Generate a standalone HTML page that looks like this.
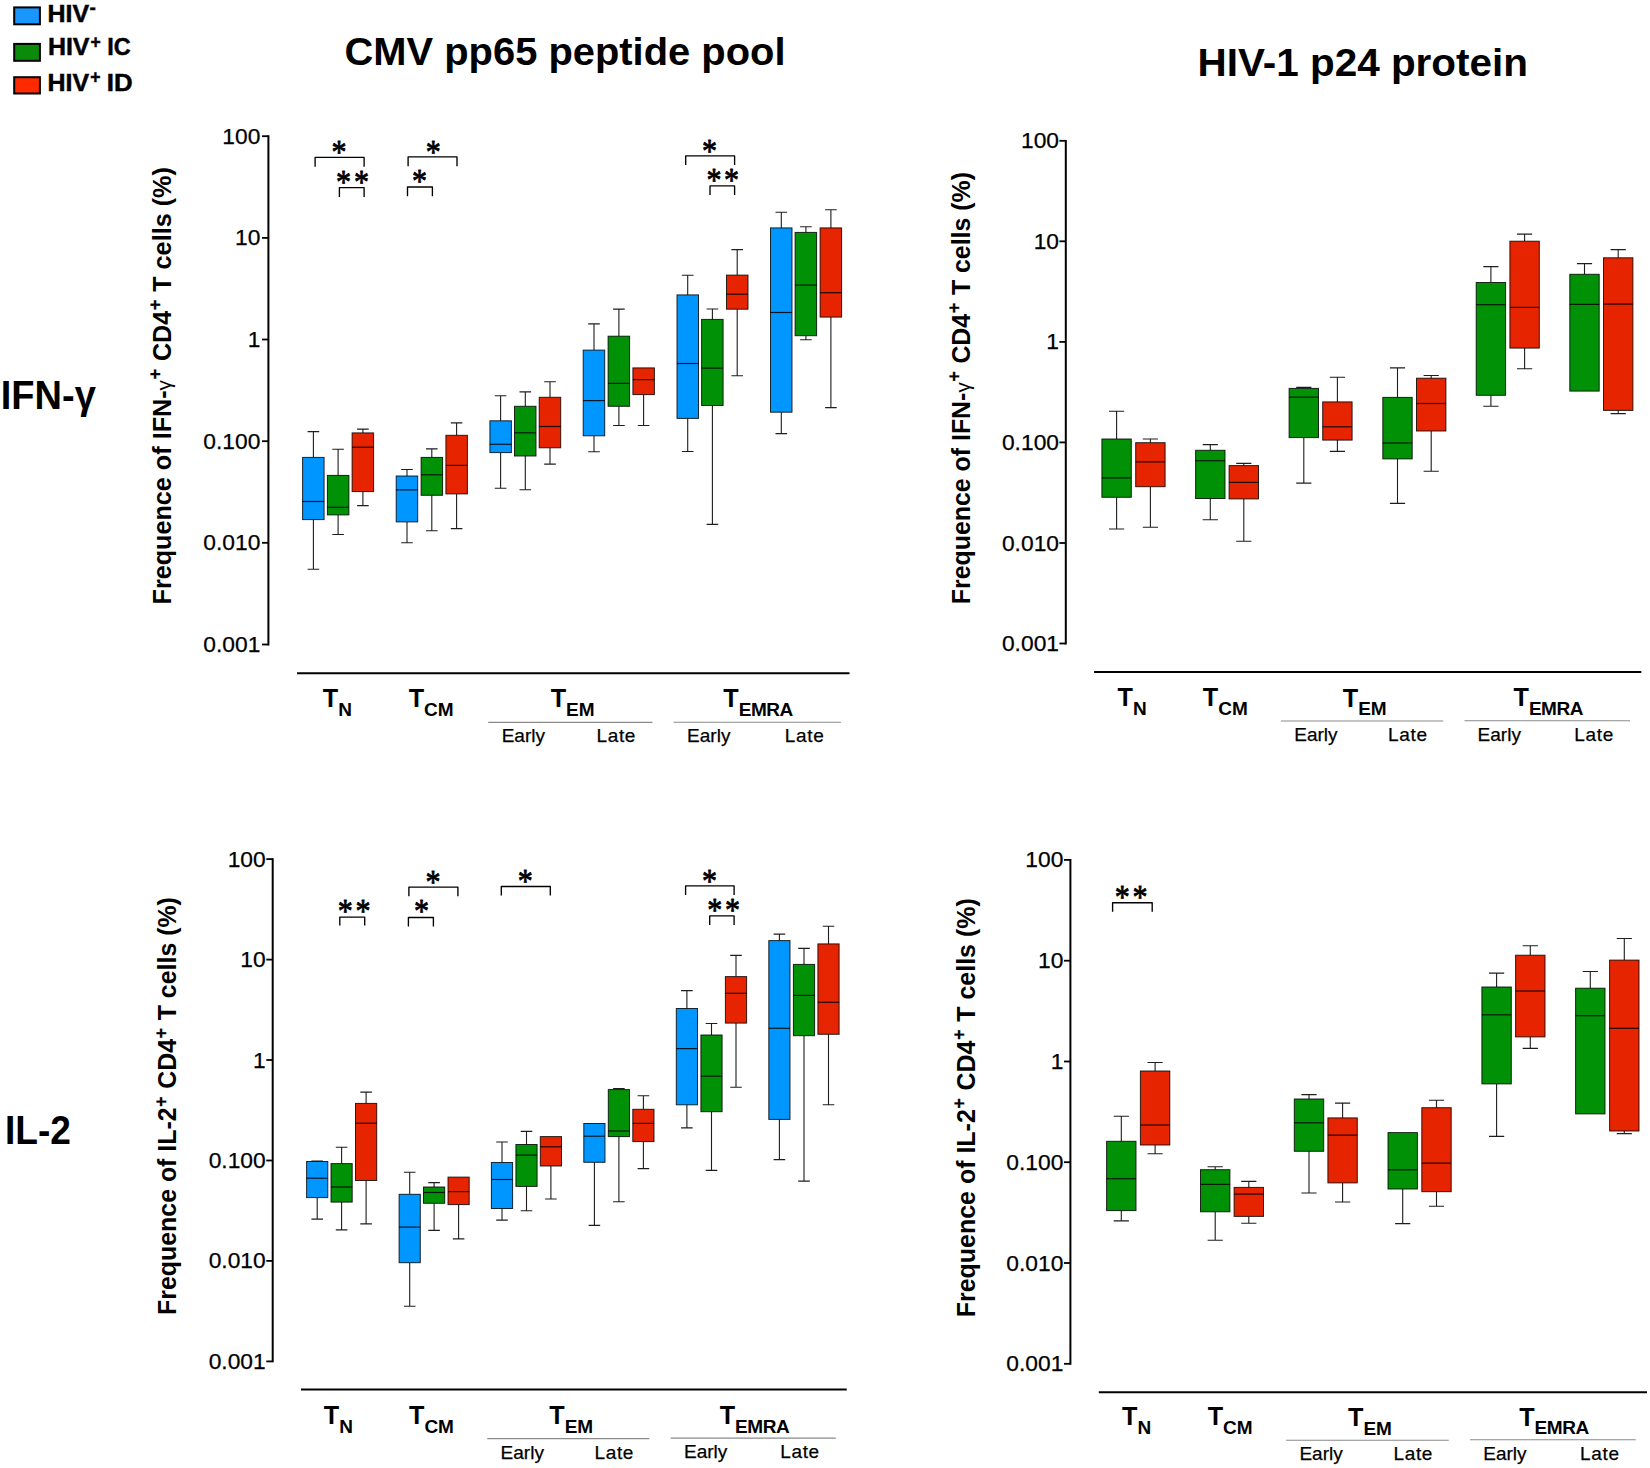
<!DOCTYPE html>
<html lang="en"><head><meta charset="utf-8"><title>Figure</title>
<style>
html,body{margin:0;padding:0;background:#fff}
svg{display:block}
text{font-family:"Liberation Sans",sans-serif;fill:#000}
.wk{stroke:#1e1e1e;stroke-width:1.1;fill:none}
.bx{stroke:#000;stroke-opacity:.82;stroke-width:1}
.md{stroke:#000;stroke-opacity:.85;stroke-width:1.2;fill:none}
.br{stroke:#000;stroke-width:1.35;fill:none;stroke-linejoin:round}
.ax{stroke:#000;stroke-width:2;fill:none}
.gl{stroke:#8a8a8a;stroke-width:1.1;fill:none}
.st{font-family:"Liberation Serif","DejaVu Serif",serif;font-size:32px;text-anchor:middle;stroke:#000;stroke-width:.8;stroke-linejoin:round}
.tk{font-size:22.8px;text-anchor:end;stroke:#000;stroke-width:0.25}
.tl{font-size:25.2px;font-weight:bold}
.sm{font-size:19px;stroke:#000;stroke-width:0.25}
.yl{font-size:24.9px;font-weight:bold}
.gm{font-weight:normal}
.big{font-weight:bold;font-size:39px}
.lg{font-weight:bold;font-size:23px;stroke:#000;stroke-width:0.45}
</style></head><body>
<svg width="1650" height="1468" viewBox="0 0 1650 1468">
<rect width="1650" height="1468" fill="#fff"/>

<rect x="14.2" y="7.4" width="25.7" height="16.9" fill="#1996ff" stroke="#000" stroke-width="2"/>
<rect x="14.2" y="43.9" width="25.7" height="16.9" fill="#0a8c0a" stroke="#000" stroke-width="2"/>
<rect x="14.2" y="77.2" width="25.7" height="16.3" fill="#ff2a00" stroke="#000" stroke-width="2"/>
<text x="47.6" y="21.6" class="lg" textLength="41.6" lengthAdjust="spacingAndGlyphs">HIV</text><text x="89.6" y="13.6" class="lg" style="font-size:19px">-</text>
<text x="47.9" y="54.9" class="lg" textLength="41.6" lengthAdjust="spacingAndGlyphs">HIV</text><text x="90.6" y="47.9" class="lg" style="font-size:17.5px">+</text><text x="107.3" y="54.9" class="lg" textLength="23.5" lengthAdjust="spacingAndGlyphs">IC</text>
<text x="47.6" y="90.5" class="lg" textLength="41.6" lengthAdjust="spacingAndGlyphs">HIV</text><text x="90.2" y="82.5" class="lg" style="font-size:17.5px">+</text><text x="106.8" y="90.5" class="lg" textLength="25.8" lengthAdjust="spacingAndGlyphs">ID</text>
<text x="344.5" y="64.7" class="big" textLength="441" lengthAdjust="spacingAndGlyphs">CMV pp65 peptide pool</text>
<text x="1197.5" y="75.6" class="big" textLength="330.5" lengthAdjust="spacingAndGlyphs">HIV-1 p24 protein</text>
<text x="0.8" y="408.9" class="big" style="font-size:40px" textLength="95" lengthAdjust="spacingAndGlyphs">IFN-γ</text>
<text x="5" y="1143.8" class="big" style="font-size:40px" textLength="66" lengthAdjust="spacingAndGlyphs">IL-2</text>
<path d="M268.4 135.3V645.4" class="ax"/>
<path d="M262.0 136.2H268.4" class="ax" style="stroke-width:1.8"/>
<text x="260.4" y="143.7" class="tk">100</text>
<path d="M262.0 237.9H268.4" class="ax" style="stroke-width:1.8"/>
<text x="260.4" y="245.4" class="tk">10</text>
<path d="M262.0 339.5H268.4" class="ax" style="stroke-width:1.8"/>
<text x="260.4" y="347.0" class="tk">1</text>
<path d="M262.0 441.2H268.4" class="ax" style="stroke-width:1.8"/>
<text x="260.4" y="448.7" class="tk">0.100</text>
<path d="M262.0 542.8H268.4" class="ax" style="stroke-width:1.8"/>
<text x="260.4" y="550.3" class="tk">0.010</text>
<path d="M262.0 644.5H268.4" class="ax" style="stroke-width:1.8"/>
<text x="260.4" y="652.0" class="tk">0.001</text>
<text transform="translate(171.2 604.5) rotate(-90)" class="yl" style="font-size:25.20px">Frequence of IFN-<tspan class="gm" style="font-size:20.85px">γ</tspan><tspan dy="-9.8" dx="0.7" style="font-size:17.81px;stroke:#000;stroke-width:0.3">+</tspan><tspan dy="9.8" dx="0.8"> CD4</tspan><tspan dy="-9.8" dx="0.7" style="font-size:17.81px;stroke:#000;stroke-width:0.3">+</tspan><tspan dy="9.8" dx="0.8"> T cells (%)</tspan></text>
<path d="M297.1 673.2H849.5" class="ax"/>
<path d="M313.4 457.4V431.6M307.6 431.6H319.2" class="wk"/><path d="M313.4 519.6V569.2M307.6 569.2H319.2" class="wk"/><rect x="302.6" y="457.4" width="21.5" height="62.2" fill="#0096ff" class="bx"/><path d="M302.6 501.5H324.1" class="md"/>
<path d="M338.1 475.4V449.3M332.3 449.3H343.9" class="wk"/><path d="M338.1 514.9V534.5M332.3 534.5H343.9" class="wk"/><rect x="327.4" y="475.4" width="21.5" height="39.5" fill="#009106" class="bx"/><path d="M327.4 507.3H348.9" class="md"/>
<path d="M362.9 432.9V429.1M357.1 429.1H368.7" class="wk"/><path d="M362.9 491.6V505.6M357.1 505.6H368.7" class="wk"/><rect x="352.1" y="432.9" width="21.5" height="58.7" fill="#e62400" class="bx"/><path d="M352.1 447.2H373.6" class="md"/>
<path d="M407.0 476.0V469.5M401.2 469.5H412.8" class="wk"/><path d="M407.0 521.9V542.7M401.2 542.7H412.8" class="wk"/><rect x="396.2" y="476.0" width="21.5" height="45.9" fill="#0096ff" class="bx"/><path d="M396.2 489.9H417.8" class="md"/>
<path d="M431.8 457.4V448.9M426.0 448.9H437.6" class="wk"/><path d="M431.8 495.3V530.8M426.0 530.8H437.6" class="wk"/><rect x="421.1" y="457.4" width="21.5" height="37.9" fill="#009106" class="bx"/><path d="M421.1 474.8H442.6" class="md"/>
<path d="M456.6 435.3V422.9M450.8 422.9H462.4" class="wk"/><path d="M456.6 493.9V528.6M450.8 528.6H462.4" class="wk"/><rect x="445.9" y="435.3" width="21.5" height="58.6" fill="#e62400" class="bx"/><path d="M445.9 465.4H467.4" class="md"/>
<path d="M500.6 420.8V395.8M494.8 395.8H506.4" class="wk"/><path d="M500.6 452.6V488.2M494.8 488.2H506.4" class="wk"/><rect x="489.9" y="420.8" width="21.5" height="31.8" fill="#0096ff" class="bx"/><path d="M489.9 444.3H511.4" class="md"/>
<path d="M525.3 406.3V391.9M519.5 391.9H531.1" class="wk"/><path d="M525.3 456.0V489.7M519.5 489.7H531.1" class="wk"/><rect x="514.5" y="406.3" width="21.5" height="49.7" fill="#009106" class="bx"/><path d="M514.5 432.8H536.0" class="md"/>
<path d="M550.0 397.3V381.7M544.2 381.7H555.8" class="wk"/><path d="M550.0 447.8V464.1M544.2 464.1H555.8" class="wk"/><rect x="539.2" y="397.3" width="21.5" height="50.5" fill="#e62400" class="bx"/><path d="M539.2 426.5H560.8" class="md"/>
<path d="M594.0 350.1V323.9M588.2 323.9H599.8" class="wk"/><path d="M594.0 435.8V451.8M588.2 451.8H599.8" class="wk"/><rect x="583.2" y="350.1" width="21.5" height="85.7" fill="#0096ff" class="bx"/><path d="M583.2 400.6H604.8" class="md"/>
<path d="M618.9 336.2V309.1M613.1 309.1H624.7" class="wk"/><path d="M618.9 406.3V425.5M613.1 425.5H624.7" class="wk"/><rect x="608.1" y="336.2" width="21.5" height="70.1" fill="#009106" class="bx"/><path d="M608.1 383.4H629.6" class="md"/>
<path d="M643.6 394.6V425.5M637.8 425.5H649.4" class="wk"/><rect x="632.9" y="367.9" width="21.5" height="26.7" fill="#e62400" class="bx"/><path d="M632.9 379.6H654.4" class="md"/>
<path d="M687.7 294.9V275.3M681.9 275.3H693.5" class="wk"/><path d="M687.7 418.4V451.5M681.9 451.5H693.5" class="wk"/><rect x="677.0" y="294.9" width="21.5" height="123.5" fill="#0096ff" class="bx"/><path d="M677.0 363.5H698.5" class="md"/>
<path d="M712.4 319.4V309.0M706.6 309.0H718.2" class="wk"/><path d="M712.4 405.5V524.4M706.6 524.4H718.2" class="wk"/><rect x="701.6" y="319.4" width="21.5" height="86.1" fill="#009106" class="bx"/><path d="M701.6 368.1H723.1" class="md"/>
<path d="M737.2 275.1V249.6M731.4 249.6H743.0" class="wk"/><path d="M737.2 309.2V375.7M731.4 375.7H743.0" class="wk"/><rect x="726.5" y="275.1" width="21.5" height="34.1" fill="#e62400" class="bx"/><path d="M726.5 294.2H748.0" class="md"/>
<path d="M781.3 227.9V212.2M775.5 212.2H787.1" class="wk"/><path d="M781.3 412.2V433.6M775.5 433.6H787.1" class="wk"/><rect x="770.5" y="227.9" width="21.5" height="184.3" fill="#0096ff" class="bx"/><path d="M770.5 312.5H792.0" class="md"/>
<path d="M805.9 232.4V226.7M800.1 226.7H811.7" class="wk"/><path d="M805.9 335.7V339.7M800.1 339.7H811.7" class="wk"/><rect x="795.1" y="232.4" width="21.5" height="103.3" fill="#009106" class="bx"/><path d="M795.1 285.1H816.6" class="md"/>
<path d="M830.9 227.9V209.8M825.1 209.8H836.7" class="wk"/><path d="M830.9 317.1V407.6M825.1 407.6H836.7" class="wk"/><rect x="820.1" y="227.9" width="21.5" height="89.2" fill="#e62400" class="bx"/><path d="M820.1 292.7H841.6" class="md"/>
<path d="M315.1 166.7V157.4H364.1V166.7" class="br"/>
<text transform="translate(339.1 163.3) scale(.94 1.04)" class="st">*</text>
<path d="M339.4 197.0V187.6H364.1V197.0" class="br"/>
<text transform="translate(343.6 192.6) scale(.94 1.04)" class="st">*</text>
<text transform="translate(361.5 192.6) scale(.94 1.04)" class="st">*</text>
<path d="M408.1 166.2V156.9H457.0V166.2" class="br"/>
<text transform="translate(433.2 162.8) scale(.94 1.04)" class="st">*</text>
<path d="M407.5 196.3V187.0H432.4V196.3" class="br"/>
<text transform="translate(419.5 192.1) scale(.94 1.04)" class="st">*</text>
<path d="M685.7 165.1V155.8H734.6V165.1" class="br"/>
<text transform="translate(709.6 161.5) scale(.94 1.04)" class="st">*</text>
<path d="M710.0 194.9V185.9H734.6V194.9" class="br"/>
<text transform="translate(714.0 190.9) scale(.94 1.04)" class="st">*</text>
<text transform="translate(731.6 190.9) scale(.94 1.04)" class="st">*</text>
<text x="322.8" y="707.2" class="tl">T<tspan dy="8.8" font-size="19">N</tspan></text>
<text x="408.7" y="707.2" class="tl">T<tspan dy="8.8" font-size="19">CM</tspan></text>
<text x="550.7" y="707.4" class="tl">T<tspan dy="8.8" font-size="19">EM</tspan></text>
<text x="723.3" y="707.3" class="tl">T<tspan dy="8.8" font-size="19" letter-spacing="-0.45">EMRA</tspan></text>
<path d="M488.2 722.4H652.4" class="gl"/>
<path d="M673.5 722.2H841.1" class="gl"/>
<text x="501.7" y="742.4" class="sm">Early</text>
<text x="596.4" y="742.4" class="sm" textLength="39.0" lengthAdjust="spacing">Late</text>
<text x="687.1" y="742.4" class="sm">Early</text>
<text x="784.8" y="742.4" class="sm" textLength="39.0" lengthAdjust="spacing">Late</text>
<path d="M1065.8 139.9V644.4" class="ax"/>
<path d="M1059.4 140.8H1065.8" class="ax" style="stroke-width:1.8"/>
<text x="1059.0" y="148.3" class="tk">100</text>
<path d="M1059.4 241.3H1065.8" class="ax" style="stroke-width:1.8"/>
<text x="1059.0" y="248.8" class="tk">10</text>
<path d="M1059.4 341.9H1065.8" class="ax" style="stroke-width:1.8"/>
<text x="1059.0" y="349.4" class="tk">1</text>
<path d="M1059.4 442.4H1065.8" class="ax" style="stroke-width:1.8"/>
<text x="1059.0" y="449.9" class="tk">0.100</text>
<path d="M1059.4 543.0H1065.8" class="ax" style="stroke-width:1.8"/>
<text x="1059.0" y="550.5" class="tk">0.010</text>
<path d="M1059.4 643.5H1065.8" class="ax" style="stroke-width:1.8"/>
<text x="1059.0" y="651.0" class="tk">0.001</text>
<text transform="translate(970.1 604.2) rotate(-90)" class="yl" style="font-size:24.90px">Frequence of IFN-<tspan class="gm" style="font-size:20.60px">γ</tspan><tspan dy="-9.8" dx="0.7" style="font-size:17.60px;stroke:#000;stroke-width:0.3">+</tspan><tspan dy="9.8" dx="0.8"> CD4</tspan><tspan dy="-9.8" dx="0.7" style="font-size:17.60px;stroke:#000;stroke-width:0.3">+</tspan><tspan dy="9.8" dx="0.8"> T cells (%)</tspan></text>
<path d="M1094.1 672.0H1641.3" class="ax"/>
<path d="M1116.6 439.0V411.2M1109.0 411.2H1124.2" class="wk"/><path d="M1116.6 497.3V529.0M1109.0 529.0H1124.2" class="wk"/><rect x="1101.9" y="439.0" width="29.4" height="58.3" fill="#009106" class="bx"/><path d="M1101.9 477.9H1131.3" class="md"/>
<path d="M1150.4 442.7V439.0M1142.8 439.0H1158.0" class="wk"/><path d="M1150.4 486.7V527.3M1142.8 527.3H1158.0" class="wk"/><rect x="1135.7" y="442.7" width="29.4" height="44.0" fill="#e62400" class="bx"/><path d="M1135.7 461.9H1165.1" class="md"/>
<path d="M1210.3 450.3V444.6M1202.7 444.6H1217.9" class="wk"/><path d="M1210.3 498.5V519.8M1202.7 519.8H1217.9" class="wk"/><rect x="1195.6" y="450.3" width="29.4" height="48.2" fill="#009106" class="bx"/><path d="M1195.6 460.7H1225.0" class="md"/>
<path d="M1243.8 465.6V463.4M1236.2 463.4H1251.4" class="wk"/><path d="M1243.8 498.9V541.2M1236.2 541.2H1251.4" class="wk"/><rect x="1229.1" y="465.6" width="29.4" height="33.3" fill="#e62400" class="bx"/><path d="M1229.1 482.4H1258.5" class="md"/>
<path d="M1303.8 388.4V387.4M1296.2 387.4H1311.4" class="wk"/><path d="M1303.8 437.6V483.1M1296.2 483.1H1311.4" class="wk"/><rect x="1289.1" y="388.4" width="29.4" height="49.2" fill="#009106" class="bx"/><path d="M1289.1 397.2H1318.5" class="md"/>
<path d="M1337.4 401.9V377.3M1329.8 377.3H1345.0" class="wk"/><path d="M1337.4 440.1V451.4M1329.8 451.4H1345.0" class="wk"/><rect x="1322.7" y="401.9" width="29.4" height="38.2" fill="#e62400" class="bx"/><path d="M1322.7 426.8H1352.1" class="md"/>
<path d="M1397.5 397.4V367.9M1389.9 367.9H1405.1" class="wk"/><path d="M1397.5 458.9V503.4M1389.9 503.4H1405.1" class="wk"/><rect x="1382.8" y="397.4" width="29.4" height="61.5" fill="#009106" class="bx"/><path d="M1382.8 443.0H1412.2" class="md"/>
<path d="M1431.2 378.2V375.5M1423.6 375.5H1438.8" class="wk"/><path d="M1431.2 431.0V471.2M1423.6 471.2H1438.8" class="wk"/><rect x="1416.5" y="378.2" width="29.4" height="52.8" fill="#e62400" class="bx"/><path d="M1416.5 403.5H1445.9" class="md"/>
<path d="M1490.9 282.5V266.6M1483.3 266.6H1498.5" class="wk"/><path d="M1490.9 395.3V406.3M1483.3 406.3H1498.5" class="wk"/><rect x="1476.2" y="282.5" width="29.4" height="112.8" fill="#009106" class="bx"/><path d="M1476.2 304.7H1505.6" class="md"/>
<path d="M1524.6 241.2V234.1M1517.0 234.1H1532.2" class="wk"/><path d="M1524.6 348.1V368.7M1517.0 368.7H1532.2" class="wk"/><rect x="1509.9" y="241.2" width="29.4" height="106.9" fill="#e62400" class="bx"/><path d="M1509.9 307.4H1539.3" class="md"/>
<path d="M1584.5 274.3V263.6M1576.9 263.6H1592.1" class="wk"/><rect x="1569.8" y="274.3" width="29.4" height="116.8" fill="#009106" class="bx"/><path d="M1569.8 304.4H1599.2" class="md"/>
<path d="M1618.2 257.8V249.6M1610.6 249.6H1625.8" class="wk"/><path d="M1618.2 410.4V413.6M1610.6 413.6H1625.8" class="wk"/><rect x="1603.5" y="257.8" width="29.4" height="152.6" fill="#e62400" class="bx"/><path d="M1603.5 304.1H1632.9" class="md"/>
<text x="1117.6" y="706.3" class="tl">T<tspan dy="8.8" font-size="19">N</tspan></text>
<text x="1202.8" y="706.3" class="tl">T<tspan dy="8.8" font-size="19">CM</tspan></text>
<text x="1342.8" y="706.5" class="tl">T<tspan dy="8.8" font-size="19">EM</tspan></text>
<text x="1513.5" y="706.3" class="tl">T<tspan dy="8.8" font-size="19" letter-spacing="-0.45">EMRA</tspan></text>
<path d="M1280.9 721.0H1443.3" class="gl"/>
<path d="M1464.5 720.7H1630.0" class="gl"/>
<text x="1294.3" y="741.0" class="sm">Early</text>
<text x="1388.0" y="741.0" class="sm" textLength="39.0" lengthAdjust="spacing">Late</text>
<text x="1477.6" y="740.6" class="sm">Early</text>
<text x="1574.3" y="740.6" class="sm" textLength="39.0" lengthAdjust="spacing">Late</text>
<path d="M272.7 858.2V1362.3" class="ax"/>
<path d="M266.3 859.1H272.7" class="ax" style="stroke-width:1.8"/>
<text x="265.7" y="866.6" class="tk">100</text>
<path d="M266.3 959.6H272.7" class="ax" style="stroke-width:1.8"/>
<text x="265.7" y="967.1" class="tk">10</text>
<path d="M266.3 1060.0H272.7" class="ax" style="stroke-width:1.8"/>
<text x="265.7" y="1067.5" class="tk">1</text>
<path d="M266.3 1160.5H272.7" class="ax" style="stroke-width:1.8"/>
<text x="265.7" y="1168.0" class="tk">0.100</text>
<path d="M266.3 1260.9H272.7" class="ax" style="stroke-width:1.8"/>
<text x="265.7" y="1268.4" class="tk">0.010</text>
<path d="M266.3 1361.4H272.7" class="ax" style="stroke-width:1.8"/>
<text x="265.7" y="1368.9" class="tk">0.001</text>
<text transform="translate(176.3 1314.9) rotate(-90)" class="yl" style="font-size:24.90px">Frequence of IL-2<tspan dy="-9.8" dx="0.7" style="font-size:17.60px;stroke:#000;stroke-width:0.3">+</tspan><tspan dy="9.8" dx="0.8"> CD4</tspan><tspan dy="-9.8" dx="0.7" style="font-size:17.60px;stroke:#000;stroke-width:0.3">+</tspan><tspan dy="9.8" dx="0.8"> T cells (%)</tspan></text>
<path d="M301.0 1389.4H846.7" class="ax"/>
<path d="M317.2 1161.5V1161.0M311.4 1161.0H323.0" class="wk"/><path d="M317.2 1197.6V1219.1M311.4 1219.1H323.0" class="wk"/><rect x="306.6" y="1161.5" width="21.2" height="36.1" fill="#0096ff" class="bx"/><path d="M306.6 1178.2H327.8" class="md"/>
<path d="M341.6 1163.6V1147.3M335.8 1147.3H347.4" class="wk"/><path d="M341.6 1202.1V1229.9M335.8 1229.9H347.4" class="wk"/><rect x="331.0" y="1163.6" width="21.2" height="38.5" fill="#009106" class="bx"/><path d="M331.0 1187.0H352.2" class="md"/>
<path d="M366.1 1103.4V1092.1M360.3 1092.1H371.9" class="wk"/><path d="M366.1 1180.5V1223.9M360.3 1223.9H371.9" class="wk"/><rect x="355.5" y="1103.4" width="21.2" height="77.1" fill="#e62400" class="bx"/><path d="M355.5 1123.2H376.7" class="md"/>
<path d="M409.7 1194.3V1172.3M403.9 1172.3H415.5" class="wk"/><path d="M409.7 1262.7V1306.2M403.9 1306.2H415.5" class="wk"/><rect x="399.1" y="1194.3" width="21.2" height="68.4" fill="#0096ff" class="bx"/><path d="M399.1 1227.1H420.3" class="md"/>
<path d="M434.1 1187.0V1182.6M428.3 1182.6H439.9" class="wk"/><path d="M434.1 1203.3V1230.4M428.3 1230.4H439.9" class="wk"/><rect x="423.5" y="1187.0" width="21.2" height="16.3" fill="#009106" class="bx"/><path d="M423.5 1192.5H444.7" class="md"/>
<path d="M458.6 1204.6V1238.9M452.8 1238.9H464.4" class="wk"/><rect x="448.0" y="1177.1" width="21.2" height="27.5" fill="#e62400" class="bx"/><path d="M448.0 1191.6H469.2" class="md"/>
<path d="M502.0 1162.5V1142.0M496.2 1142.0H507.8" class="wk"/><path d="M502.0 1208.5V1220.1M496.2 1220.1H507.8" class="wk"/><rect x="491.4" y="1162.5" width="21.2" height="46.0" fill="#0096ff" class="bx"/><path d="M491.4 1179.5H512.6" class="md"/>
<path d="M526.5 1144.5V1131.4M520.7 1131.4H532.3" class="wk"/><path d="M526.5 1186.4V1210.7M520.7 1210.7H532.3" class="wk"/><rect x="515.9" y="1144.5" width="21.2" height="41.9" fill="#009106" class="bx"/><path d="M515.9 1155.1H537.1" class="md"/>
<path d="M550.9 1166.0V1199.0M545.1 1199.0H556.7" class="wk"/><rect x="540.3" y="1136.6" width="21.2" height="29.4" fill="#e62400" class="bx"/><path d="M540.3 1146.8H561.5" class="md"/>
<path d="M594.4 1162.3V1225.4M588.6 1225.4H600.2" class="wk"/><rect x="583.8" y="1123.5" width="21.2" height="38.8" fill="#0096ff" class="bx"/><path d="M583.8 1136.2H605.0" class="md"/>
<path d="M618.9 1089.6V1088.6M613.1 1088.6H624.7" class="wk"/><path d="M618.9 1136.6V1201.7M613.1 1201.7H624.7" class="wk"/><rect x="608.3" y="1089.6" width="21.2" height="47.0" fill="#009106" class="bx"/><path d="M608.3 1131.0H629.5" class="md"/>
<path d="M643.4 1109.3V1095.7M637.6 1095.7H649.2" class="wk"/><path d="M643.4 1141.6V1168.6M637.6 1168.6H649.2" class="wk"/><rect x="632.8" y="1109.3" width="21.2" height="32.3" fill="#e62400" class="bx"/><path d="M632.8 1123.4H654.0" class="md"/>
<path d="M686.9 1008.5V990.6M681.1 990.6H692.7" class="wk"/><path d="M686.9 1104.8V1127.9M681.1 1127.9H692.7" class="wk"/><rect x="676.3" y="1008.5" width="21.2" height="96.3" fill="#0096ff" class="bx"/><path d="M676.3 1048.6H697.5" class="md"/>
<path d="M711.5 1035.0V1023.5M705.7 1023.5H717.3" class="wk"/><path d="M711.5 1111.7V1170.4M705.7 1170.4H717.3" class="wk"/><rect x="700.9" y="1035.0" width="21.2" height="76.7" fill="#009106" class="bx"/><path d="M700.9 1076.2H722.1" class="md"/>
<path d="M736.0 976.6V955.4M730.2 955.4H741.8" class="wk"/><path d="M736.0 1023.1V1087.2M730.2 1087.2H741.8" class="wk"/><rect x="725.4" y="976.6" width="21.2" height="46.5" fill="#e62400" class="bx"/><path d="M725.4 993.3H746.6" class="md"/>
<path d="M779.4 940.6V934.1M773.6 934.1H785.2" class="wk"/><path d="M779.4 1119.4V1159.6M773.6 1159.6H785.2" class="wk"/><rect x="768.8" y="940.6" width="21.2" height="178.8" fill="#0096ff" class="bx"/><path d="M768.8 1028.3H790.0" class="md"/>
<path d="M804.0 964.4V948.4M798.2 948.4H809.8" class="wk"/><path d="M804.0 1035.7V1181.1M798.2 1181.1H809.8" class="wk"/><rect x="793.4" y="964.4" width="21.2" height="71.3" fill="#009106" class="bx"/><path d="M793.4 995.4H814.6" class="md"/>
<path d="M828.5 943.9V926.3M822.7 926.3H834.3" class="wk"/><path d="M828.5 1034.3V1104.8M822.7 1104.8H834.3" class="wk"/><rect x="817.9" y="943.9" width="21.2" height="90.4" fill="#e62400" class="bx"/><path d="M817.9 1002.3H839.1" class="md"/>
<path d="M339.8 925.6V917.1H364.7V925.6" class="br"/>
<text transform="translate(345.2 921.8) scale(.94 1.04)" class="st">*</text>
<text transform="translate(363.1 921.8) scale(.94 1.04)" class="st">*</text>
<path d="M408.9 896.2V887.1H457.9V896.2" class="br"/>
<text transform="translate(433.0 893.1) scale(.94 1.04)" class="st">*</text>
<path d="M408.4 926.4V917.5H433.4V926.4" class="br"/>
<text transform="translate(421.5 922.4) scale(.94 1.04)" class="st">*</text>
<path d="M501.3 895.5V886.5H550.3V895.5" class="br"/>
<text transform="translate(525.3 892.1) scale(.94 1.04)" class="st">*</text>
<path d="M685.6 894.9V885.8H734.1V894.9" class="br"/>
<text transform="translate(709.4 891.5) scale(.94 1.04)" class="st">*</text>
<path d="M709.7 924.9V915.9H734.1V924.9" class="br"/>
<text transform="translate(714.8 920.7) scale(.94 1.04)" class="st">*</text>
<text transform="translate(732.6 920.7) scale(.94 1.04)" class="st">*</text>
<text x="323.8" y="1423.8" class="tl">T<tspan dy="8.8" font-size="19">N</tspan></text>
<text x="409.0" y="1423.8" class="tl">T<tspan dy="8.8" font-size="19">CM</tspan></text>
<text x="549.3" y="1424.1" class="tl">T<tspan dy="8.8" font-size="19">EM</tspan></text>
<text x="719.7" y="1423.8" class="tl">T<tspan dy="8.8" font-size="19" letter-spacing="-0.45">EMRA</tspan></text>
<path d="M487.3 1438.6H649.4" class="gl"/>
<path d="M670.7 1438.1H835.8" class="gl"/>
<text x="500.6" y="1458.6" class="sm">Early</text>
<text x="594.4" y="1458.6" class="sm" textLength="39.0" lengthAdjust="spacing">Late</text>
<text x="684.0" y="1458.2" class="sm">Early</text>
<text x="780.2" y="1458.2" class="sm" textLength="39.0" lengthAdjust="spacing">Late</text>
<path d="M1070.4 859.0V1364.7" class="ax"/>
<path d="M1064.0 859.9H1070.4" class="ax" style="stroke-width:1.8"/>
<text x="1063.4" y="867.4" class="tk">100</text>
<path d="M1064.0 960.7H1070.4" class="ax" style="stroke-width:1.8"/>
<text x="1063.4" y="968.2" class="tk">10</text>
<path d="M1064.0 1061.5H1070.4" class="ax" style="stroke-width:1.8"/>
<text x="1063.4" y="1069.0" class="tk">1</text>
<path d="M1064.0 1162.2H1070.4" class="ax" style="stroke-width:1.8"/>
<text x="1063.4" y="1169.7" class="tk">0.100</text>
<path d="M1064.0 1263.0H1070.4" class="ax" style="stroke-width:1.8"/>
<text x="1063.4" y="1270.5" class="tk">0.010</text>
<path d="M1064.0 1363.8H1070.4" class="ax" style="stroke-width:1.8"/>
<text x="1063.4" y="1371.3" class="tk">0.001</text>
<text transform="translate(974.8 1317.3) rotate(-90)" class="yl" style="font-size:24.97px">Frequence of IL-2<tspan dy="-9.8" dx="0.7" style="font-size:17.65px;stroke:#000;stroke-width:0.3">+</tspan><tspan dy="9.8" dx="0.8"> CD4</tspan><tspan dy="-9.8" dx="0.7" style="font-size:17.65px;stroke:#000;stroke-width:0.3">+</tspan><tspan dy="9.8" dx="0.8"> T cells (%)</tspan></text>
<path d="M1098.8 1392.3H1647.0" class="ax"/>
<path d="M1121.3 1141.3V1116.2M1113.7 1116.2H1128.9" class="wk"/><path d="M1121.3 1210.6V1220.9M1113.7 1220.9H1128.9" class="wk"/><rect x="1106.6" y="1141.3" width="29.4" height="69.3" fill="#009106" class="bx"/><path d="M1106.6 1178.7H1136.0" class="md"/>
<path d="M1155.1 1071.0V1062.5M1147.5 1062.5H1162.7" class="wk"/><path d="M1155.1 1145.0V1153.7M1147.5 1153.7H1162.7" class="wk"/><rect x="1140.4" y="1071.0" width="29.4" height="74.0" fill="#e62400" class="bx"/><path d="M1140.4 1125.0H1169.8" class="md"/>
<path d="M1215.2 1169.7V1166.7M1207.6 1166.7H1222.8" class="wk"/><path d="M1215.2 1211.8V1240.2M1207.6 1240.2H1222.8" class="wk"/><rect x="1200.5" y="1169.7" width="29.4" height="42.1" fill="#009106" class="bx"/><path d="M1200.5 1184.4H1229.9" class="md"/>
<path d="M1248.8 1187.4V1181.4M1241.2 1181.4H1256.4" class="wk"/><path d="M1248.8 1216.4V1223.3M1241.2 1223.3H1256.4" class="wk"/><rect x="1234.1" y="1187.4" width="29.4" height="29.0" fill="#e62400" class="bx"/><path d="M1234.1 1194.1H1263.5" class="md"/>
<path d="M1309.0 1099.0V1094.6M1301.4 1094.6H1316.6" class="wk"/><path d="M1309.0 1151.3V1193.0M1301.4 1193.0H1316.6" class="wk"/><rect x="1294.3" y="1099.0" width="29.4" height="52.3" fill="#009106" class="bx"/><path d="M1294.3 1122.8H1323.7" class="md"/>
<path d="M1342.6 1117.9V1103.1M1335.0 1103.1H1350.2" class="wk"/><path d="M1342.6 1182.9V1202.0M1335.0 1202.0H1350.2" class="wk"/><rect x="1327.9" y="1117.9" width="29.4" height="65.0" fill="#e62400" class="bx"/><path d="M1327.9 1135.1H1357.3" class="md"/>
<path d="M1402.7 1189.0V1223.6M1395.1 1223.6H1410.3" class="wk"/><rect x="1388.0" y="1132.6" width="29.4" height="56.4" fill="#009106" class="bx"/><path d="M1388.0 1169.8H1417.4" class="md"/>
<path d="M1436.5 1107.7V1100.2M1428.9 1100.2H1444.1" class="wk"/><path d="M1436.5 1191.7V1206.3M1428.9 1206.3H1444.1" class="wk"/><rect x="1421.8" y="1107.7" width="29.4" height="84.0" fill="#e62400" class="bx"/><path d="M1421.8 1163.1H1451.2" class="md"/>
<path d="M1496.6 987.0V973.1M1489.0 973.1H1504.2" class="wk"/><path d="M1496.6 1083.9V1136.4M1489.0 1136.4H1504.2" class="wk"/><rect x="1481.9" y="987.0" width="29.4" height="96.9" fill="#009106" class="bx"/><path d="M1481.9 1014.8H1511.3" class="md"/>
<path d="M1530.3 955.2V945.7M1522.7 945.7H1537.9" class="wk"/><path d="M1530.3 1036.9V1048.4M1522.7 1048.4H1537.9" class="wk"/><rect x="1515.6" y="955.2" width="29.4" height="81.7" fill="#e62400" class="bx"/><path d="M1515.6 991.0H1545.0" class="md"/>
<path d="M1590.3 988.2V971.5M1582.7 971.5H1597.9" class="wk"/><rect x="1575.6" y="988.2" width="29.4" height="125.7" fill="#009106" class="bx"/><path d="M1575.6 1015.7H1605.0" class="md"/>
<path d="M1624.3 960.1V938.5M1616.7 938.5H1631.9" class="wk"/><path d="M1624.3 1131.0V1133.6M1616.7 1133.6H1631.9" class="wk"/><rect x="1609.6" y="960.1" width="29.4" height="170.9" fill="#e62400" class="bx"/><path d="M1609.6 1028.3H1639.0" class="md"/>
<path d="M1112.6 911.7V902.7H1152.2V911.7" class="br"/>
<text transform="translate(1122.2 907.6) scale(.94 1.04)" class="st">*</text>
<text transform="translate(1139.9 907.6) scale(.94 1.04)" class="st">*</text>
<text x="1122.0" y="1425.3" class="tl">T<tspan dy="8.8" font-size="19">N</tspan></text>
<text x="1207.7" y="1425.3" class="tl">T<tspan dy="8.8" font-size="19">CM</tspan></text>
<text x="1348.0" y="1425.7" class="tl">T<tspan dy="8.8" font-size="19">EM</tspan></text>
<text x="1519.2" y="1425.5" class="tl">T<tspan dy="8.8" font-size="19" letter-spacing="-0.45">EMRA</tspan></text>
<path d="M1286.1 1440.2H1448.8" class="gl"/>
<path d="M1470.0 1439.7H1635.8" class="gl"/>
<text x="1299.4" y="1460.4" class="sm">Early</text>
<text x="1393.4" y="1460.4" class="sm" textLength="39.0" lengthAdjust="spacing">Late</text>
<text x="1483.3" y="1459.8" class="sm">Early</text>
<text x="1580.1" y="1459.8" class="sm" textLength="39.0" lengthAdjust="spacing">Late</text>
</svg></body></html>
